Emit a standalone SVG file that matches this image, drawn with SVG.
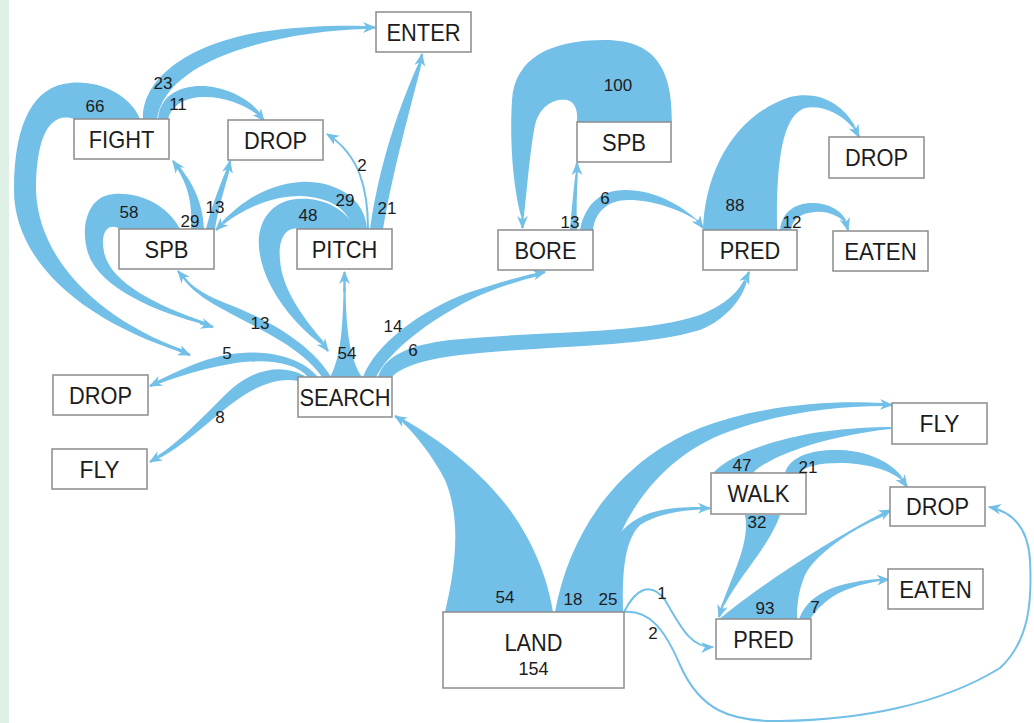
<svg xmlns="http://www.w3.org/2000/svg" width="1034" height="723" viewBox="0 0 1034 723">
<style>
.rb{fill:#72bfe8;stroke:none}
.tp{fill:none;stroke:#72bfe8;stroke-width:2.5}
.ln{fill:none;stroke:#72bfe8;stroke-width:2}
.box{fill:#fff;stroke:#8c8c8c;stroke-width:1.5}
.lbl{font-family:"Liberation Sans",Arial,sans-serif;font-size:24px;fill:#1c1c1c;text-anchor:middle}
.num{font-family:"Liberation Sans",Arial,sans-serif;font-size:17px;fill:#1c1c1c;text-anchor:middle}
</style>
<defs>
<marker id="ah" viewBox="0 0 12 10" refX="11" refY="5" markerWidth="13" markerHeight="11" markerUnits="userSpaceOnUse" orient="auto">
<path d="M0,0 L12,5 L0,10 L3.5,5 z" fill="#72bfe8"/>
</marker>
</defs>
<rect x="0" y="0" width="1034" height="723" fill="#fff"/>
<rect x="0" y="0" width="9" height="723" fill="#dff0e6"/>
<g id="connectors">
<!-- FIGHT 66 loop -->
<path class="rb" d="M140,119 C130,95 100,80 70,83 C35,86 14,120 14,190 C14,260 80,320 184,353 L184,350 C100,320 38,260 36,190 C36,140 48,110 75,119 Z"/>
<path class="tp" d="M176,349 L190,355" marker-end="url(#ah)"/>
<!-- SPB 58 loop -->
<path class="rb" d="M180,229 C165,200 130,190 108,195 C88,200 82,225 86,245 C92,285 150,310 206,325 L205,322 C155,305 110,282 104,252 C100,232 108,222 120,229 Z"/>
<path class="tp" d="M200,323 L213,327" marker-end="url(#ah)"/>
<!-- FIGHT->ENTER 23 -->
<path class="rb" d="M143,119 C142,80 185,45 260,32 C300,26 340,25 366,26 L366,29 C330,30 290,35 255,45 C200,60 162,85 157,119 Z"/>
<path class="tp" d="M362,27.5 L375,27.5" marker-end="url(#ah)"/>
<!-- FIGHT->DROP 11 -->
<path class="rb" d="M158,119 C160,95 180,85 205,86 C230,88 250,100 260,113 L258,115 C245,105 225,97 205,97 C185,97 172,105 168,119 Z"/>
<path class="tp" d="M257,112 L264,121" marker-end="url(#ah)"/>
<!-- SPB->FIGHT 29 -->
<path class="rb" d="M191,229 C193,200 186,182 176,167 L179,166 C192,182 203,202 204,229 Z"/>
<path class="tp" d="M178,168 L173,161" marker-end="url(#ah)"/>
<!-- SPB->DROP 13 -->
<path class="rb" d="M206,229 C212,205 220,185 227,168 L230,169 C224,190 218,210 215,229 Z"/>
<path class="tp" d="M228.5,168 L230,161" marker-end="url(#ah)"/>
<!-- PITCH 48 loop -->
<path class="rb" d="M355,229 C345,205 315,195 290,200 C265,206 255,230 260,255 C266,290 295,325 321,344 L324,342 C305,320 282,290 280,260 C278,240 285,226 300,229 Z"/>
<path class="tp" d="M322,343 L328,351" marker-end="url(#ah)"/>
<!-- PITCH->SPB 29 -->
<path class="rb" d="M367,229 C365,195 330,180 300,182 C265,185 240,203 222,222 L224,224 C245,208 272,196 300,196 C330,197 350,210 352,229 Z"/>
<path class="tp" d="M223,223 L216,230" marker-end="url(#ah)"/>
<!-- PITCH->DROP 2 -->
<path class="ln" d="M368,229 C368,190 360,155 327,134" marker-end="url(#ah)"/>
<!-- PITCH->ENTER 21 -->
<path class="rb" d="M370,229 C380,160 400,105 419,62 L422,62 C410,110 393,170 383,229 Z"/>
<path class="tp" d="M420.5,62 L422,54" marker-end="url(#ah)"/>
<!-- SEARCH->SPB 13 -->
<path class="rb" d="M322,377 C300,345 250,325 215,305 C198,295 188,286 182,277 L184,276 C192,288 210,297 225,303 C270,320 312,345 331,377 Z"/>
<path class="tp" d="M183,277 L178,271" marker-end="url(#ah)"/>
<!-- SEARCH->PITCH 54 -->
<path class="rb" d="M330,377 C340,360 343,330 343.5,288 L345.5,288 C346,330 350,360 362,377 Z"/>
<path class="tp" d="M344.5,292 L344.5,272" marker-end="url(#ah)"/>
<!-- SEARCH->BORE 14 -->
<path class="rb" d="M363,377 C375,345 420,310 470,292 C500,282 522,276 537,273 L538,276 C515,282 490,290 470,300 C430,320 390,350 376,377 Z"/>
<path class="tp" d="M535,274.5 L545,272" marker-end="url(#ah)"/>
<!-- SEARCH->PRED 6 -->
<path class="rb" d="M378,377 C385,355 410,345 450,340 C550,330 640,335 700,315 C725,305 738,292 744,280 L747,281 C742,300 725,320 700,330 C640,348 550,345 460,355 C420,360 400,368 392,377 Z"/>
<path class="tp" d="M745.5,280 L749,272" marker-end="url(#ah)"/>
<!-- SEARCH->DROP 5 -->
<path class="rb" d="M318,377 C300,355 260,348 225,355 C200,360 178,371 157,381 L158,384 C180,376 205,368 230,364 C265,358 295,362 308,377 Z"/>
<path class="tp" d="M157.5,382.5 L150,386" marker-end="url(#ah)"/>
<!-- SEARCH->FLY 8 -->
<path class="rb" d="M305,376 C280,362 250,370 225,395 C200,420 178,443 157,456 L158,459 C180,448 205,425 230,405 C255,385 280,377 298,381 Z"/>
<path class="tp" d="M157.5,457.5 L150,462" marker-end="url(#ah)"/>
<!-- SPB->BORE 100 -->
<path class="rb" d="M672,122 C672,75 660,40 605,40 C550,40 515,58 512,100 C509,150 515,195 521,216 L524,216 C527,190 530,150 535,125 C540,105 555,98 567,100 C575,102 578,110 577,122 Z"/>
<path class="tp" d="M522.5,214 L522.5,228" marker-end="url(#ah)"/>
<!-- BORE->SPB 13 -->
<path class="rb" d="M570,230 C572,205 574,185 576,170 L578,170 C577,190 576,210 577,230 Z"/>
<path class="tp" d="M577,172 L577,163" marker-end="url(#ah)"/>
<!-- BORE->PRED 6 -->
<path class="rb" d="M580,230 C585,205 600,190 625,190 C655,190 680,205 696,219 L698,221 C680,210 655,200 628,200 C608,200 595,212 593,230 Z"/>
<path class="tp" d="M697,220 L703,228" marker-end="url(#ah)"/>
<!-- PRED->DROP 88 -->
<path class="rb" d="M703,230 C705,170 735,115 790,97 C820,90 843,105 855,126 L853,128 C840,112 820,105 805,108 C785,115 776,150 777,230 Z"/>
<path class="tp" d="M854,127 L859,137" marker-end="url(#ah)"/>
<!-- PRED->EATEN 12 -->
<path class="rb" d="M780,230 C782,212 795,203 812,203 C830,203 841,211 846,220 L845,223 C838,215 827,211 815,212 C800,213 792,220 791,230 Z"/>
<path class="tp" d="M845.5,221 L848,230" marker-end="url(#ah)"/>
<!-- LAND->SEARCH 54 -->
<path class="rb" d="M445,612 C455,570 462,520 445,480 C432,455 416,435 401,421 L403,419 C440,440 480,470 510,510 C535,545 548,580 553,612 Z"/>
<path class="tp" d="M403,421 L395,416" marker-end="url(#ah)"/>
<!-- LAND->FLY 18 -->
<path class="rb" d="M555,612 C570,530 620,460 700,428 C760,405 830,400 883,403 L883,406 C830,406 770,415 720,435 C650,465 610,530 597,612 Z"/>
<path class="tp" d="M881,404.5 L892,405" marker-end="url(#ah)"/>
<!-- LAND->WALK 25 -->
<path class="rb" d="M597,612 C596,560 615,525 650,513 C670,507 688,507 701,507 L701,509.5 C680,510 655,515 640,525 C625,540 622,570 623,612 Z"/>
<path class="tp" d="M700,508.2 L710,508.2" marker-end="url(#ah)"/>
<!-- WALK->FLY 47 -->
<path class="rb" d="M713,473 C730,455 770,440 820,432 C850,428 875,427 891,427 L891,429 C860,432 820,440 790,452 C770,460 758,467 753,473 Z"/>
<!-- WALK->DROP 21 -->
<path class="rb" d="M785,473 C790,455 815,449 840,450 C870,451 893,464 902,477 L900,479 C890,470 865,463 840,463 C820,463 805,466 800,473 Z"/>
<path class="tp" d="M901,478 L907,487" marker-end="url(#ah)"/>
<!-- WALK->PRED 32 -->
<path class="rb" d="M745,515 C750,540 735,570 722,604 L724.5,605 C740,575 770,545 780,515 Z"/>
<path class="tp" d="M723,604 L719,617" marker-end="url(#ah)"/>
<!-- PRED->DROP 93 -->
<path class="rb" d="M718,620 C760,585 830,540 882,513 L884,516 C850,530 815,555 805,575 C798,592 797,605 797,620 Z"/>
<path class="tp" d="M882,514.5 L891,510" marker-end="url(#ah)"/>
<!-- PRED->EATEN 7 -->
<path class="rb" d="M799,620 C805,600 825,588 850,583 C865,580 873,579 880,579 L880,581 C865,583 840,590 828,600 C818,608 812,615 810,620 Z"/>
<path class="tp" d="M879,580 L889,579.5" marker-end="url(#ah)"/>
<!-- LAND->PRED 1 -->
<path class="ln" d="M624,612 C635,590 650,580 665,600 C680,625 690,648 713,647" marker-end="url(#ah)"/>
<!-- LAND->DROP 2 -->
<path class="ln" d="M624,612 C650,610 665,630 680,665 C700,710 730,722 780,721 C860,720 940,705 1000,668 C1030,640 1032,600 1030,560 C1028,530 1015,512 989,507" marker-end="url(#ah)"/>
</g>
<g id="n-enter"><rect class="box" x="376" y="12" width="95" height="40"/><text class="lbl" x="423.5" y="40.5" textLength="74" lengthAdjust="spacingAndGlyphs">ENTER</text></g>
<g id="n-fight"><rect class="box" x="74" y="119" width="95" height="40"/><text class="lbl" x="121.5" y="147.5" textLength="65.5" lengthAdjust="spacingAndGlyphs">FIGHT</text></g>
<g id="n-drop1"><rect class="box" x="228" y="120" width="95" height="40"/><text class="lbl" x="275.5" y="148.5" textLength="63" lengthAdjust="spacingAndGlyphs">DROP</text></g>
<g id="n-spb1"><rect class="box" x="119" y="229" width="95" height="40"/><text class="lbl" x="166.5" y="257.5" textLength="44" lengthAdjust="spacingAndGlyphs">SPB</text></g>
<g id="n-pitch"><rect class="box" x="297" y="229" width="95" height="40"/><text class="lbl" x="344.5" y="257.5" textLength="65.5" lengthAdjust="spacingAndGlyphs">PITCH</text></g>
<g id="n-spb2"><rect class="box" x="577" y="122" width="94" height="40"/><text class="lbl" x="624" y="150.5" textLength="44" lengthAdjust="spacingAndGlyphs">SPB</text></g>
<g id="n-bore"><rect class="box" x="498" y="230" width="95" height="40"/><text class="lbl" x="545.5" y="258.5" textLength="62" lengthAdjust="spacingAndGlyphs">BORE</text></g>
<g id="n-pred1"><rect class="box" x="703" y="230" width="94" height="40"/><text class="lbl" x="750" y="258.5" textLength="60.5" lengthAdjust="spacingAndGlyphs">PRED</text></g>
<g id="n-drop2"><rect class="box" x="829" y="137" width="95" height="41"/><text class="lbl" x="876.5" y="166" textLength="63" lengthAdjust="spacingAndGlyphs">DROP</text></g>
<g id="n-eaten1"><rect class="box" x="833" y="231" width="95" height="40"/><text class="lbl" x="880.5" y="259.5" textLength="72.5" lengthAdjust="spacingAndGlyphs">EATEN</text></g>
<g id="n-drop3"><rect class="box" x="53" y="375" width="95" height="40"/><text class="lbl" x="100.5" y="403.5" textLength="63" lengthAdjust="spacingAndGlyphs">DROP</text></g>
<g id="n-fly1"><rect class="box" x="52" y="449" width="95" height="40"/><text class="lbl" x="99.5" y="477.5" textLength="40" lengthAdjust="spacingAndGlyphs">FLY</text></g>
<g id="n-search"><rect class="box" x="298" y="377" width="94" height="40"/><text class="lbl" x="345" y="405.5" textLength="91" lengthAdjust="spacingAndGlyphs">SEARCH</text></g>
<g id="n-fly2"><rect class="box" x="892" y="403" width="95" height="41"/><text class="lbl" x="939.5" y="432" textLength="40" lengthAdjust="spacingAndGlyphs">FLY</text></g>
<g id="n-walk"><rect class="box" x="711" y="473" width="95" height="41"/><text class="lbl" x="758.5" y="502" textLength="62" lengthAdjust="spacingAndGlyphs">WALK</text></g>
<g id="n-drop4"><rect class="box" x="890" y="487" width="95" height="39"/><text class="lbl" x="937.5" y="515" textLength="63" lengthAdjust="spacingAndGlyphs">DROP</text></g>
<g id="n-eaten2"><rect class="box" x="888" y="569" width="95" height="40"/><text class="lbl" x="935.5" y="597.5" textLength="72.5" lengthAdjust="spacingAndGlyphs">EATEN</text></g>
<g id="n-pred2"><rect class="box" x="716" y="619" width="95" height="40"/><text class="lbl" x="763.5" y="647.5" textLength="60.5" lengthAdjust="spacingAndGlyphs">PRED</text></g>
<g id="n-land"><rect class="box" x="443" y="612" width="181" height="76"/><text class="lbl" x="533.5" y="651" textLength="58" lengthAdjust="spacingAndGlyphs">LAND</text><text class="num" x="533.5" y="675" style="font-size:18px">154</text></g>
<g id="labels">
<text class="num" x="163" y="89">23</text>
<text class="num" x="95" y="112">66</text>
<text class="num" x="178" y="110">11</text>
<text class="num" x="129" y="218">58</text>
<text class="num" x="190" y="227">29</text>
<text class="num" x="215" y="213">13</text>
<text class="num" x="308" y="221">48</text>
<text class="num" x="345" y="206">29</text>
<text class="num" x="362" y="171">2</text>
<text class="num" x="387" y="214">21</text>
<text class="num" x="260" y="329">13</text>
<text class="num" x="227" y="359">5</text>
<text class="num" x="347" y="359">54</text>
<text class="num" x="393" y="332">14</text>
<text class="num" x="413" y="356">6</text>
<text class="num" x="220" y="423">8</text>
<text class="num" x="618" y="91">100</text>
<text class="num" x="570" y="228">13</text>
<text class="num" x="605" y="204">6</text>
<text class="num" x="735" y="211">88</text>
<text class="num" x="792" y="228">12</text>
<text class="num" x="505" y="603">54</text>
<text class="num" x="573" y="605">18</text>
<text class="num" x="608" y="605">25</text>
<text class="num" x="662" y="599">1</text>
<text class="num" x="653" y="639">2</text>
<text class="num" x="742" y="471">47</text>
<text class="num" x="808" y="473">21</text>
<text class="num" x="757" y="528">32</text>
<text class="num" x="765" y="614">93</text>
<text class="num" x="815" y="613">7</text>
</g>
</svg>
